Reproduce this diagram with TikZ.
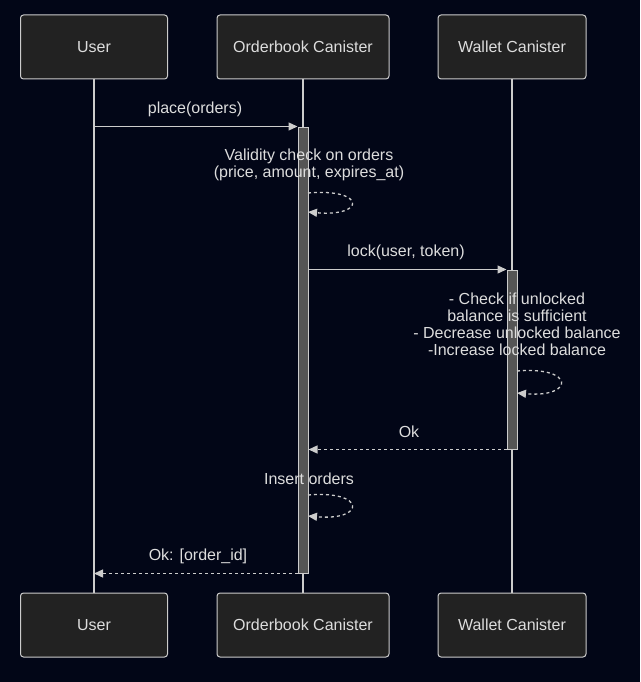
\documentclass[tikz,border=0pt]{standalone}
\usepackage{fontspec}
\setmainfont{Liberation Sans}
\usetikzlibrary{arrows.meta}

\definecolor{bgcol}{HTML}{020617}
\definecolor{boxcol}{HTML}{222222}
\definecolor{linecol}{HTML}{CCCCCC}
\definecolor{txtcol}{HTML}{DDDDDD}
\definecolor{barcol}{HTML}{555555}

\tikzset{
  actor/.style={draw=linecol,fill=boxcol,rounded corners=3pt,line width=1pt,
    minimum height=64pt,text=txtcol,font=\fontsize{16}{19}\selectfont},
  activ/.style={draw=linecol,fill=barcol,line width=1pt,minimum width=10pt,inner sep=0pt},
  life/.style={draw=linecol,line width=1.3pt},
  msg/.style={draw=linecol,line width=1.3pt,-{Triangle[length=9pt,width=8pt]}},
  reply/.style={msg,dash pattern=on 3pt off 3pt},
  lbl/.style={text=txtcol,font=\fontsize{16}{17}\selectfont,align=center,inner sep=0pt}
}

\begin{document}
\begin{tikzpicture}[x=1pt,y=-1pt]
\fill[bgcol] (0,0) rectangle (640,682);
\useasboundingbox (0,0) rectangle (640,682);

% actors, top and bottom
\begin{scope}[every node/.style={actor}]
  \node[minimum width=147pt] (userT) at (94,47) {User};
  \node[minimum width=172pt] (obT) at (303,47) {Orderbook Canister};
  \node[minimum width=148pt] (walT) at (512,47) {Wallet Canister};
  \node[minimum width=147pt] (userB) at (94,625) {User};
  \node[minimum width=172pt] (obB) at (303,625) {Orderbook Canister};
  \node[minimum width=148pt] (walB) at (512,625) {Wallet Canister};
\end{scope}

% lifelines
\draw[life] (userT) -- (userB);
\draw[life] (obT) -- (obB);
\draw[life] (walT) -- (walB);

% activations
\node[activ,minimum height=446pt] (obAct) at (303,350) {};
\node[activ,minimum height=179pt] (walAct) at (512,359.5) {};

% self loop ends
\coordinate (chkS) at (308,193);
\coordinate (chkE) at (308,212);
\coordinate (balS) at (517,371);
\coordinate (balE) at (517,393);
\coordinate (insS) at (308,495);
\coordinate (insE) at (308,516);

% messages
\draw[msg] (userT |- obAct.north) -- (obAct.north west);
\node[lbl] (lPlace) at (195,109) {place(orders)};

\draw[reply] (chkS) .. controls (366,188) and (366,217) .. (chkE);
\node[lbl] (lCheck) at (309,165) {Validity check on orders\\(price, amount, expires\_at)};

\draw[msg] (obAct.east |- walAct.north) -- (walAct.north west);
\node[lbl] (lLock) at (406,252) {lock(user, token)};

\draw[reply] (balS) .. controls (575,366) and (575,398) .. (balE);
\node[lbl] (lBal) at (517,324) {- Check if unlocked\\balance is sufficient\\- Decrease unlocked balance\\-Increase locked balance};

\draw[reply] (walAct.south west) -- (obAct.east |- walAct.south);
\node[lbl] (lOk) at (409,432) {Ok};

\draw[reply] (insS) .. controls (366,490) and (366,521) .. (insE);
\node[lbl] (lIns) at (309,479) {Insert orders};

\draw[reply] (obAct.south west) -- (userT |- obAct.south);
\node[lbl] (lOkId) at (198,556) {Ok: [order\_id]};
\end{tikzpicture}
\end{document}
